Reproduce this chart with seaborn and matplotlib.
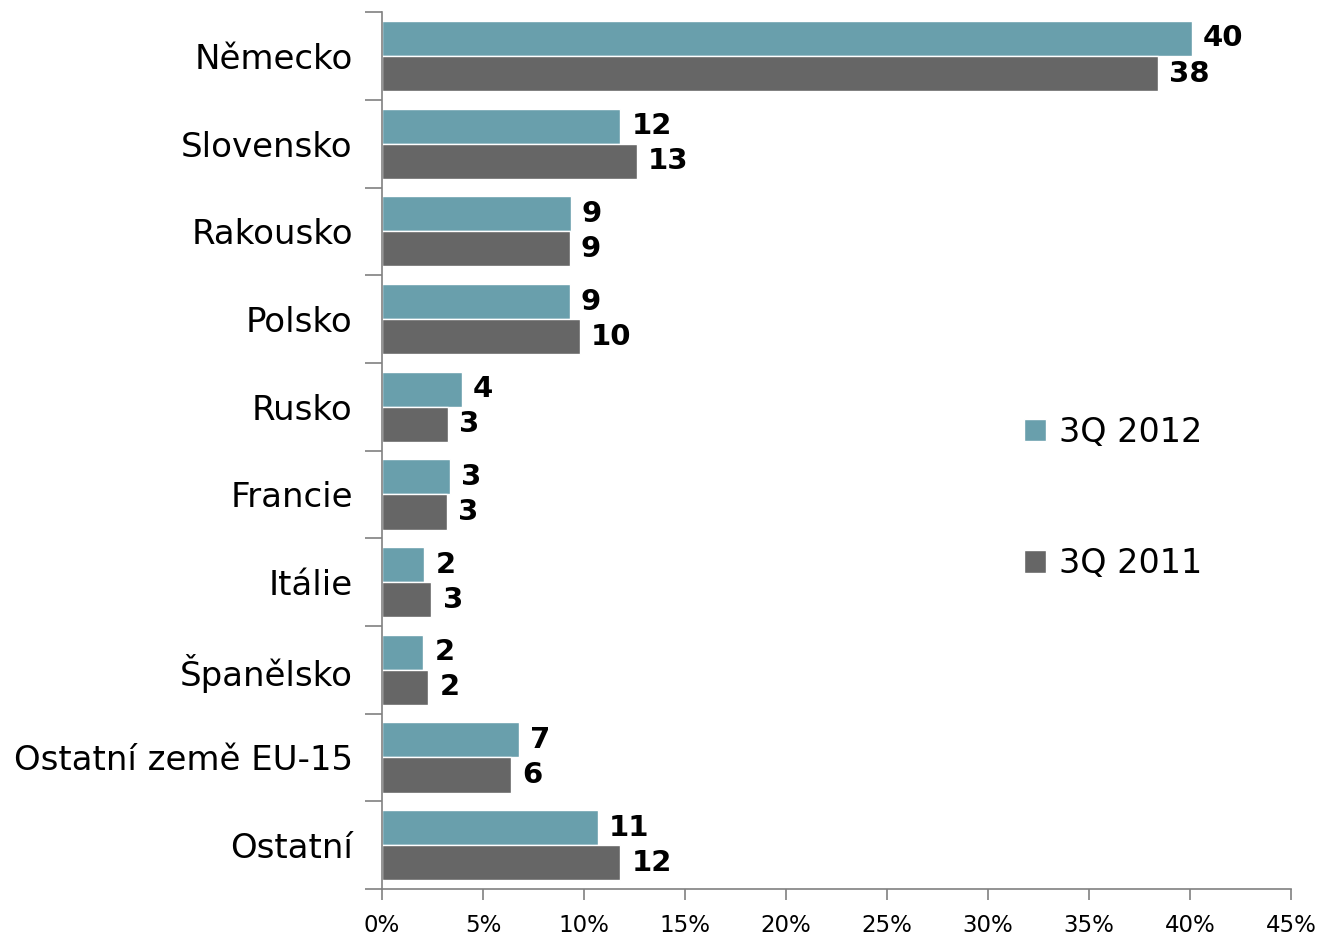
import pandas as pd
import matplotlib.pyplot as plt
import seaborn as sns

# Data (share of exports, %)
countries = ["Německo", "Slovensko", "Rakousko", "Polsko", "Rusko", "Francie",
             "Itálie", "Španělsko", "Ostatní země EU-15", "Ostatní"]
share_2012 = [40.1, 11.8, 9.35, 9.3, 3.95, 3.35, 2.1, 2.05, 6.8, 10.7]
share_2011 = [38.4, 12.6, 9.3, 9.8, 3.25, 3.2, 2.45, 2.3, 6.4, 11.8]
labels_2012 = ["40", "12", "9", "9", "4", "3", "2", "2", "7", "11"]
labels_2011 = ["38", "13", "9", "10", "3", "3", "3", "2", "6", "12"]
periods = ["3Q 2012", "3Q 2011"]
xticks = [0, 5, 10, 15, 20, 25, 30, 35, 40, 45]
xtick_labels = ["0%", "5%", "10%", "15%", "20%", "25%", "30%", "35%", "40%", "45%"]

df = pd.DataFrame({
    "country": countries * 2,
    "value": share_2012 + share_2011,
    "period": [periods[0]] * len(countries) + [periods[1]] * len(countries),
})

sns.set_style("white")
plt.rcParams["font.family"] = ["DejaVu Sans"]
plt.rcParams["text.color"] = "black"
plt.rcParams["xtick.color"] = "black"
plt.rcParams["ytick.color"] = "black"

fig, ax = plt.subplots(figsize=(13.2, 9.36), dpi=100)
fig.subplots_adjust(left=0.2894, right=0.978, top=0.987, bottom=0.0502)

sns.barplot(data=df, x="value", y="country", hue="period", orient="h",
            palette=["#699fac", "#666666"], saturation=1, width=0.8,
            edgecolor="white", linewidth=1, ax=ax)

for cont, labs in zip(ax.containers, [labels_2012, labels_2011]):
    ax.bar_label(cont, labels=labs, padding=8, fontsize=21, fontweight="bold",
                 color="black")

ax.set_xlim(0, 45)
ax.set_ylim(len(countries) - 0.5, -0.5)
ax.set_xticks(xticks)
ax.set_xticklabels(xtick_labels, fontsize=16.5)
ax.set_yticks(range(len(countries)))
ax.set_yticklabels(countries, fontsize=24.5)
ax.set_yticks([i - 0.5 for i in range(len(countries) + 1)], minor=True)
ax.tick_params(axis="y", which="major", left=True, length=0, pad=21)
ax.tick_params(axis="y", which="minor", left=True, length=12, direction="out",
               color="#808080", width=1.2)
ax.tick_params(axis="x", bottom=True, length=8, direction="out", color="#808080",
               width=1.2, pad=10)
ax.set_xlabel("")
ax.set_ylabel("")

for s in ["top", "right"]:
    ax.spines[s].set_visible(False)
for s in ["left", "bottom"]:
    ax.spines[s].set_color("#808080")
    ax.spines[s].set_linewidth(1.2)

ax.legend(loc="center left", bbox_to_anchor=(994 / 1320, 1 - 498 / 936),
          bbox_transform=fig.transFigure, frameon=False, fontsize=24,
          handlelength=0.65, handleheight=0.65, handletextpad=0.4,
          labelspacing=2.95)

plt.savefig("out.png")
